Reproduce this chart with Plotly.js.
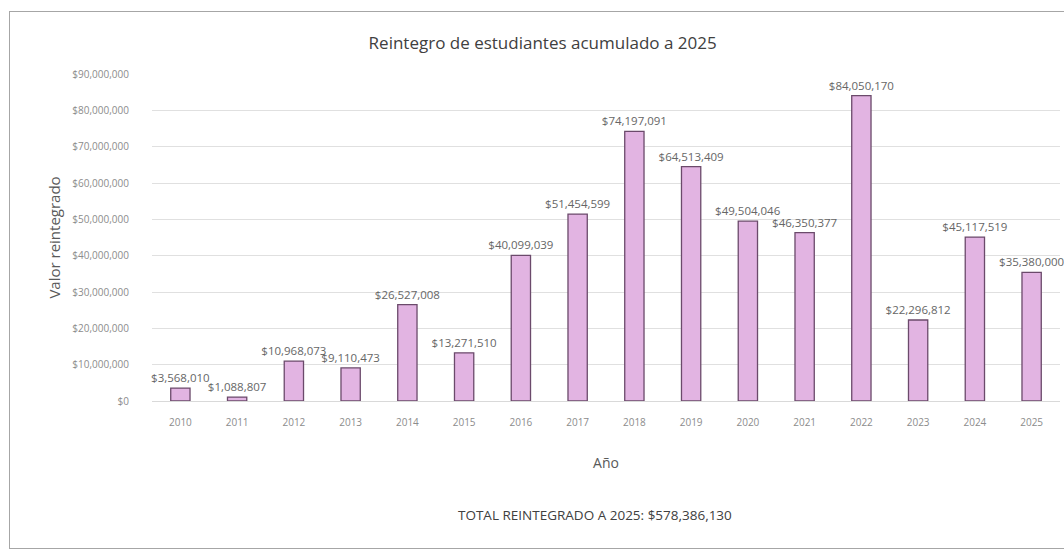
<!DOCTYPE html>
<html>
<head>
<meta charset="utf-8">
<script src="https://cdn.plot.ly/plotly-3.0.1.min.js"></script>
<style>
  html, body { margin: 0; padding: 0; background: #ffffff; overflow: hidden; }
  #chart { position: absolute; left: 0; top: 0; width: 1064px; height: 552px; }
  #frame { position: absolute; left: 9px; top: 11px; width: 1100px; height: 536px;
           border: 1px solid #a6a6a6; border-right: none; pointer-events: none; }
</style>
</head>
<body>
<div id="chart"></div>
<div id="frame"></div>
<script>
const years = ['2010','2011','2012','2013','2014','2015','2016','2017','2018','2019','2020','2021','2022','2023','2024','2025'];
const values = [3568010, 1088807, 10968073, 9110473, 26527008, 13271510, 40099039, 51454599,
                74197091, 64513409, 49504046, 46350377, 84050170, 22296812, 45117519, 35380000];
const yTicks = [0, 10000000, 20000000, 30000000, 40000000, 50000000, 60000000, 70000000, 80000000, 90000000];
const chartTitle = 'Reintegro de estudiantes acumulado a 2025';
const xTitle = 'Año';
const yTitle = 'Valor reintegrado';
const totalText = 'TOTAL REINTEGRADO A 2025: $578,386,130';

const font = 'Open Sans, Liberation Sans, sans-serif';
const yTickText = yTicks.map(v => '$' + v.toLocaleString('en-US'));

const trace = {
  type: 'bar',
  x: years,
  y: values,
  marker: { color: '#e2b4e2', line: { color: '#6b4a6b', width: 1.3 } },
  texttemplate: '$%{y:,.0f}',
  textposition: 'outside',
  constraintext: 'none',
  cliponaxis: false,
  textfont: { family: font, size: 11.5, color: '#666666' },
  hoverinfo: 'x+y'
};

const layout = {
  width: 1064, height: 552,
  margin: { l: 152, r: 4, t: 74, b: 151 },
  paper_bgcolor: 'rgba(0,0,0,0)',
  plot_bgcolor: 'rgba(0,0,0,0)',
  showlegend: false,
  bargap: 0.66,
  title: {
    text: chartTitle,
    font: { family: font, size: 17, color: '#404040' },
    xref: 'container', x: 0.51, xanchor: 'center',
    yref: 'container', y: 1 - 43/552, yanchor: 'middle'
  },
  xaxis: {
    type: 'category',
    showgrid: false,
    showline: true, linecolor: '#d9d9d9', linewidth: 1,
    ticks: 'outside', ticklen: 12, tickcolor: 'rgba(0,0,0,0)',
    tickfont: { family: font, size: 10, color: '#8c8c8c' },
    title: { text: xTitle, standoff: 30, font: { family: font, size: 14, color: '#595959' } },
    automargin: false
  },
  yaxis: {
    range: [0, 90000000],
    tickmode: 'array',
    tickvals: yTicks,
    ticktext: yTickText,
    showgrid: true, gridcolor: '#e0e0e0', gridwidth: 1,
    zeroline: false,
    showline: false,
    ticks: 'outside', ticklen: 20, tickcolor: 'rgba(0,0,0,0)',
    tickfont: { family: font, size: 10, color: '#8c8c8c' },
    title: { text: yTitle, standoff: 8, font: { family: font, size: 15, color: '#595959' } },
    automargin: false
  },
  annotations: [{
    text: totalText,
    xref: 'paper', yref: 'paper',
    x: (595 - 152) / 908, y: (401 - 515) / 327,
    xanchor: 'center', yanchor: 'middle',
    showarrow: false,
    font: { family: font, size: 13.5, color: '#404040' }
  }]
};

Plotly.newPlot('chart', [trace], layout, { displayModeBar: false, staticPlot: true });
</script>
</body>
</html>
